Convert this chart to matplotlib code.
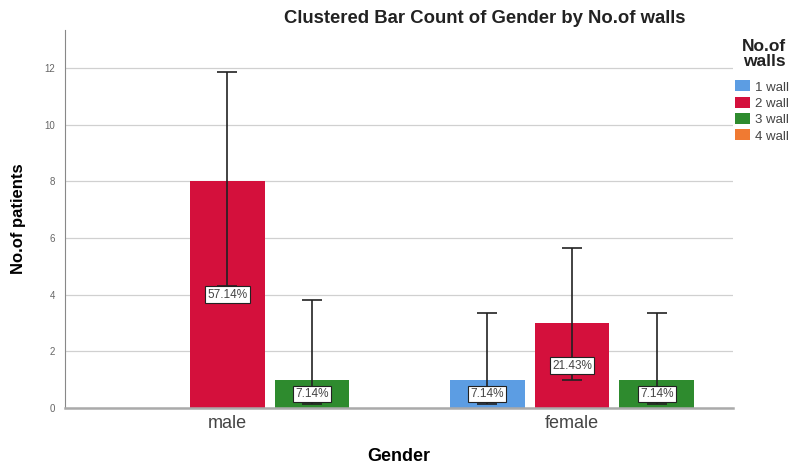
import numpy as np
import matplotlib
matplotlib.use("Agg")
import matplotlib.pyplot as plt
from matplotlib.patches import Patch

plt.rcParams['font.family'] = ['Liberation Sans', 'DejaVu Sans']

genders = ["male", "female"]
walls = ["1 wall", "2 wall", "3 wall", "4 wall"]
colors = ["#5c9de3", "#d4103c", "#2e8b2e", "#f07a32"]

# counts per wall type, one value per gender
counts = {
    "1 wall": [0, 1],
    "2 wall": [8, 3],
    "3 wall": [1, 1],
    "4 wall": [0, 0],
}
# error bar limits (low, high)
err_low = {
    "1 wall": [0, 0.14],
    "2 wall": [4.3, 0.99],
    "3 wall": [0.14, 0.14],
    "4 wall": [0, 0],
}
err_high = {
    "1 wall": [0, 3.36],
    "2 wall": [11.87, 5.64],
    "3 wall": [3.81, 3.36],
    "4 wall": [0, 0],
}
total = sum(sum(v) for v in counts.values())

fig = plt.figure(figsize=(7.95, 4.68), dpi=100)
ax = fig.add_axes([0.0818, 0.128, 0.8402, 0.808])

pitch = 0.246
width = 0.217
x = np.arange(len(genders))
for i, w in enumerate(walls):
    offs = (i - 1) * pitch
    for j, g in enumerate(genders):
        c = counts[w][j]
        if c == 0:
            continue
        xp = x[j] + offs
        ax.bar(xp, c, width=width, color=colors[i], zorder=2)
        ax.errorbar(xp, c, yerr=[[c - err_low[w][j]], [err_high[w][j] - c]],
                    fmt="none", ecolor="#222222", elinewidth=1.2,
                    capsize=7.5, capthick=1.2, zorder=3)
        ax.text(xp, c / 2, "%.2f%%" % (c / total * 100), ha="center", va="center",
                fontsize=8.5, color="#444444", zorder=4,
                bbox=dict(boxstyle="square,pad=0.2", fc="white", ec="#222222", lw=0.8))

ax.set_xlim(-0.47, 1.467)
ax.set_ylim(0, 13.35)
ax.set_yticks(range(0, 13, 2))
ax.set_xticks(x)
ax.set_xticklabels(genders, fontsize=13, color="#444444")
ax.tick_params(axis="y", labelsize=7, colors="#666666", length=0, pad=7)
ax.tick_params(axis="x", length=0, pad=5)
ax.grid(axis="y", color="#d0d0d0", lw=0.9, zorder=0)
for s in ["top", "right"]:
    ax.spines[s].set_visible(False)
ax.spines["left"].set_color("#888888")
ax.spines["bottom"].set_color("#aaaaaa")
ax.spines["bottom"].set_linewidth(1.8)

ax.set_xlabel("Gender", fontsize=13, fontweight="bold")
ax.xaxis.set_label_coords(0.5, -0.127)
ax.xaxis.label.set_va("center")
ax.set_ylabel("No.of patients", fontsize=12, fontweight="bold")
ax.yaxis.set_label_coords(-0.070, 0.5)
ax.yaxis.label.set_va("center")

fig.text(0.61, 0.9615, "Clustered Bar Count of Gender by No.of walls", ha="center",
         va="center", fontsize=13.3, fontweight="bold", color="#222222")

fig.text(0.961, 0.885, "No.of\nwalls", ha="center", va="center", fontsize=12.5,
         fontweight="bold", color="#222222", linespacing=1.0)
handles = [Patch(facecolor=c, label=w) for c, w in zip(colors, walls)]
leg = fig.legend(handles=handles, loc="upper left", bbox_to_anchor=(0.925, 0.828),
                 frameon=False, fontsize=9.5, handlelength=1.1, handleheight=0.9,
                 handletextpad=0.35, labelspacing=0.25, borderaxespad=0, borderpad=0)
for t in leg.get_texts():
    t.set_color("#444444")

fig.savefig("out.png", dpi=100)
